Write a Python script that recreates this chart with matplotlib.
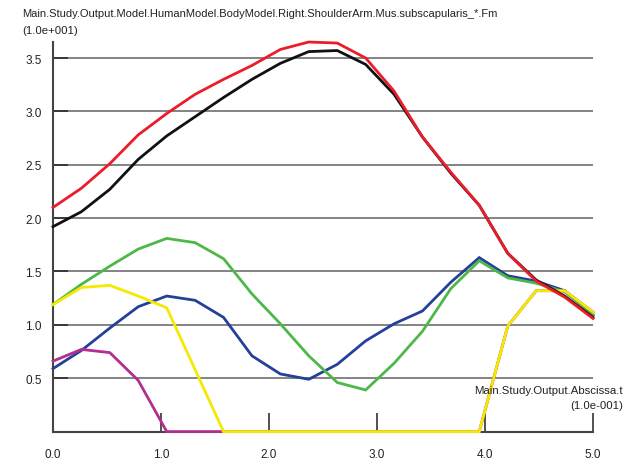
import matplotlib; matplotlib.use("Agg")
import matplotlib.pyplot as plt

plt.rcParams["font.family"] = ["Liberation Sans", "DejaVu Sans"]

# time samples (20 frames, 0..5)
t = [0.0, 0.263, 0.526, 0.789, 1.053, 1.316, 1.579, 1.842, 2.105, 2.368,
     2.632, 2.895, 3.158, 3.421, 3.684, 3.947, 4.211, 4.474, 4.737, 5.0]

red = [2.10, 2.28, 2.51, 2.78, 2.98, 3.16, 3.30, 3.43, 3.58, 3.65,
       3.64, 3.50, 3.19, 2.76, 2.43, 2.12, 1.67, 1.41, 1.26, 1.06]
black = [1.92, 2.06, 2.27, 2.55, 2.77, 2.95, 3.13, 3.30, 3.45, 3.56,
         3.57, 3.44, 3.16, 2.76, 2.42, 2.12, 1.67, 1.42, 1.27, 1.07]
green = [1.19, 1.38, 1.55, 1.71, 1.81, 1.77, 1.62, 1.29, 1.01, 0.71,
         0.46, 0.39, 0.64, 0.94, 1.34, 1.60, 1.44, 1.39, 1.31, 1.10]
blue = [0.59, 0.76, 0.97, 1.17, 1.27, 1.23, 1.07, 0.71, 0.54, 0.49,
        0.63, 0.85, 1.01, 1.13, 1.40, 1.63, 1.46, 1.41, 1.32, 1.09]
yellow = [1.19, 1.35, 1.37, 1.27, 1.16, 0.58, 0.0, 0.0, 0.0, 0.0,
          0.0, 0.0, 0.0, 0.0, 0.0, 0.0, 0.99, 1.32, 1.32, 1.12]
magenta = [0.66, 0.77, 0.74, 0.48, 0.0, 0.0, 0.0, 0.0, 0.0, 0.0,
           0.0, 0.0, 0.0, 0.0, 0.0, 0.0, 0.99, 1.32, 1.32, 1.12]

yticks = [0.5, 1.0, 1.5, 2.0, 2.5, 3.0, 3.5]
xticks = [0.0, 1.0, 2.0, 3.0, 4.0, 5.0]

W, H = 636, 464
fig = plt.figure(figsize=(W / 100, H / 100), dpi=100)
ax = fig.add_axes([53 / W, (H - 432.6) / H, 540 / W, 389.6 / H])

for y in yticks:
    ax.axhline(y, color="#7a7a7a", lw=1.3, zorder=1)

series = [(blue, "#25409a"), (green, "#4db848"), (magenta, "#b22e8f"),
          (yellow, "#f6e900"), (black, "#111111"), (red, "#ec1c2b")]
for vals, c in series:
    ax.plot(t, vals, color=c, lw=2.0, zorder=3, clip_on=False, solid_joinstyle="miter")

ax.set_xlim(0, 5.0)
ax.set_ylim(0, 3.65)
for s in ["top", "right"]:
    ax.spines[s].set_visible(False)
for s in ["left", "bottom"]:
    ax.spines[s].set_color("#444444")
    ax.spines[s].set_linewidth(1.5)

ax.set_yticks(yticks)
ax.set_yticklabels([f"{v:.1f}" for v in yticks])
ax.set_xticks(xticks)
ax.set_xticklabels([f"{v:.1f}" for v in xticks])
ax.tick_params(axis="y", direction="in", length=11, width=1.3, color="#333333",
               labelsize=8.5, pad=8, labelcolor="#222222")
ax.tick_params(axis="x", direction="in", length=14, width=1.2, color="#333333",
               labelsize=8.5, pad=12, labelcolor="#222222")

fig.text(22 / W, 1 - 14 / H, "Main.Study.Output.Model.HumanModel.BodyModel.Right.ShoulderArm.Mus.subscapularis_*.Fm",
         fontsize=8.0, ha="left", va="center", color="#222222")
fig.text(22 / W, 1 - 31 / H, "(1.0e+001)", fontsize=8.2, ha="left", va="center", color="#222222")
fig.text(623 / W, 1 - 391 / H, "Main.Study.Output.Abscissa.t", fontsize=8.2,
         ha="right", va="center", color="#222222")
fig.text(623 / W, 1 - 406 / H, "(1.0e-001)", fontsize=8.2, ha="right", va="center", color="#222222")

fig.savefig("out.png", dpi=100)
